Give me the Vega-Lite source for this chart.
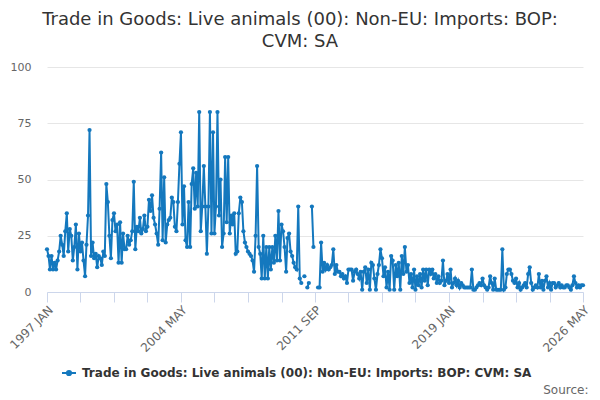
{
 "$schema": "https://vega.github.io/schema/vega-lite/v6.json",
 "width": 536, "height": 225,
 "autosize": "none",
 "padding": {"left": 47, "top": 67, "right": 17, "bottom": 108},
 "background": "white",
 "config": {"view": {"stroke": null}, "font": "DejaVu Sans"},
 "title": {"text": ["Trade in Goods: Live animals (00): Non-EU: Imports: BOP:", "CVM: SA"], "fontSize": 18, "fontWeight": "normal", "color": "#333333", "anchor": "middle", "dx": -15, "offset": 10, "lineHeight": 22, "font": "DejaVu Sans"},
 "data": {"values": [
{"d":"1997-01","v":19},{"d":"1997-02","v":16},{"d":"1997-03","v":10},{"d":"1997-04","v":16},{"d":"1997-05","v":10},{"d":"1997-06","v":13},{"d":"1997-07","v":10},{"d":"1997-08","v":14},{"d":"1997-09","v":18},{"d":"1997-10","v":25},{"d":"1997-11","v":21},{"d":"1997-12","v":16},
{"d":"1998-01","v":27},{"d":"1998-02","v":35},{"d":"1998-03","v":18},{"d":"1998-04","v":28},{"d":"1998-05","v":25},{"d":"1998-06","v":14},{"d":"1998-07","v":20},{"d":"1998-08","v":30},{"d":"1998-09","v":10},{"d":"1998-10","v":26},{"d":"1998-11","v":18},{"d":"1998-12","v":22},
{"d":"1999-01","v":14},{"d":"1999-02","v":7},{"d":"1999-03","v":21},{"d":"1999-04","v":34},{"d":"1999-05","v":72},{"d":"1999-06","v":16},{"d":"1999-07","v":22},{"d":"1999-08","v":15},{"d":"1999-09","v":17},{"d":"1999-10","v":11},{"d":"1999-11","v":16},{"d":"1999-12","v":15},
{"d":"2000-01","v":12},{"d":"2000-02","v":18},{"d":"2000-03","v":16},{"d":"2000-04","v":48},{"d":"2000-05","v":40},{"d":"2000-06","v":25},{"d":"2000-07","v":15},{"d":"2000-08","v":32},{"d":"2000-09","v":35},{"d":"2000-10","v":27},{"d":"2000-11","v":30},{"d":"2000-12","v":13},
{"d":"2001-01","v":31},{"d":"2001-02","v":13},{"d":"2001-03","v":26},{"d":"2001-04","v":19},{"d":"2001-05","v":19},{"d":"2001-06","v":25},{"d":"2001-07","v":21},{"d":"2001-08","v":23},{"d":"2001-09","v":27},{"d":"2001-10","v":49},{"d":"2001-11","v":19},{"d":"2001-12","v":29},
{"d":"2002-01","v":27},{"d":"2002-02","v":33},{"d":"2002-03","v":26},{"d":"2002-04","v":28},{"d":"2002-05","v":34},{"d":"2002-06","v":27},{"d":"2002-07","v":29},{"d":"2002-08","v":41},{"d":"2002-09","v":36},{"d":"2002-10","v":43},{"d":"2002-11","v":33},{"d":"2002-12","v":30},
{"d":"2003-01","v":26},{"d":"2003-02","v":21},{"d":"2003-03","v":37},{"d":"2003-04","v":62},{"d":"2003-05","v":23},{"d":"2003-06","v":51},{"d":"2003-07","v":22},{"d":"2003-08","v":30},{"d":"2003-09","v":32},{"d":"2003-10","v":33},{"d":"2003-11","v":42},{"d":"2003-12","v":40},
{"d":"2004-01","v":29},{"d":"2004-02","v":27},{"d":"2004-03","v":40},{"d":"2004-04","v":57},{"d":"2004-05","v":71},{"d":"2004-06","v":30},{"d":"2004-07","v":47},{"d":"2004-08","v":23},{"d":"2004-09","v":20},{"d":"2004-10","v":40},{"d":"2004-11","v":20},{"d":"2004-12","v":48},
{"d":"2005-01","v":55},{"d":"2005-02","v":37},{"d":"2005-03","v":53},{"d":"2005-04","v":38},{"d":"2005-05","v":80},{"d":"2005-06","v":27},{"d":"2005-07","v":38},{"d":"2005-08","v":56},{"d":"2005-09","v":38},{"d":"2005-10","v":17},{"d":"2005-11","v":38},{"d":"2005-12","v":80},
{"d":"2006-01","v":26},{"d":"2006-02","v":71},{"d":"2006-03","v":26},{"d":"2006-04","v":38},{"d":"2006-05","v":80},{"d":"2006-06","v":34},{"d":"2006-07","v":50},{"d":"2006-08","v":20},{"d":"2006-09","v":26},{"d":"2006-10","v":60},{"d":"2006-11","v":31},{"d":"2006-12","v":60},
{"d":"2007-01","v":26},{"d":"2007-02","v":34},{"d":"2007-03","v":30},{"d":"2007-04","v":35},{"d":"2007-05","v":17},{"d":"2007-06","v":18},{"d":"2007-07","v":35},{"d":"2007-08","v":42},{"d":"2007-09","v":40},{"d":"2007-10","v":27},{"d":"2007-11","v":22},{"d":"2007-12","v":20},
{"d":"2008-01","v":18},{"d":"2008-02","v":17},{"d":"2008-03","v":16},{"d":"2008-04","v":14},{"d":"2008-05","v":9},{"d":"2008-06","v":25},{"d":"2008-07","v":56},{"d":"2008-08","v":20},{"d":"2008-09","v":17},{"d":"2008-10","v":6},{"d":"2008-11","v":25},{"d":"2008-12","v":6},
{"d":"2009-01","v":20},{"d":"2009-02","v":6},{"d":"2009-03","v":20},{"d":"2009-04","v":10},{"d":"2009-05","v":20},{"d":"2009-06","v":13},{"d":"2009-07","v":25},{"d":"2009-08","v":14},{"d":"2009-09","v":36},{"d":"2009-10","v":14},{"d":"2009-11","v":30},{"d":"2009-12","v":27},
{"d":"2010-01","v":20},{"d":"2010-02","v":9},{"d":"2010-03","v":24},{"d":"2010-04","v":26},{"d":"2010-05","v":18},{"d":"2010-06","v":16},{"d":"2010-07","v":13},{"d":"2010-08","v":11},{"d":"2010-09","v":10},{"d":"2010-10","v":38},{"d":"2010-11","v":6},{"d":"2010-12","v":4},
{"d":"2011-01","v":null},{"d":"2011-02","v":7},{"d":"2011-03","v":null},{"d":"2011-04","v":2},{"d":"2011-05","v":4},{"d":"2011-06","v":null},{"d":"2011-07","v":38},{"d":"2011-08","v":20},{"d":"2011-09","v":null},{"d":"2011-10","v":null},{"d":"2011-11","v":2},{"d":"2011-12","v":2},
{"d":"2012-01","v":22},{"d":"2012-02","v":9},{"d":"2012-03","v":13},{"d":"2012-04","v":10},{"d":"2012-05","v":12},{"d":"2012-06","v":10},{"d":"2012-07","v":11},{"d":"2012-08","v":12},{"d":"2012-09","v":19},{"d":"2012-10","v":8},{"d":"2012-11","v":12},{"d":"2012-12","v":9},
{"d":"2013-01","v":9},{"d":"2013-02","v":7},{"d":"2013-03","v":8},{"d":"2013-04","v":6},{"d":"2013-05","v":7},{"d":"2013-06","v":4},{"d":"2013-07","v":10},{"d":"2013-08","v":10},{"d":"2013-09","v":10},{"d":"2013-10","v":5},{"d":"2013-11","v":9},{"d":"2013-12","v":10},
{"d":"2014-01","v":8},{"d":"2014-02","v":6},{"d":"2014-03","v":9},{"d":"2014-04","v":1},{"d":"2014-05","v":9},{"d":"2014-06","v":11},{"d":"2014-07","v":4},{"d":"2014-08","v":10},{"d":"2014-09","v":1},{"d":"2014-10","v":13},{"d":"2014-11","v":12},{"d":"2014-12","v":6},
{"d":"2015-01","v":1},{"d":"2015-02","v":8},{"d":"2015-03","v":12},{"d":"2015-04","v":19},{"d":"2015-05","v":15},{"d":"2015-06","v":7},{"d":"2015-07","v":11},{"d":"2015-08","v":2},{"d":"2015-09","v":9},{"d":"2015-10","v":1},{"d":"2015-11","v":16},{"d":"2015-12","v":14},
{"d":"2016-01","v":1},{"d":"2016-02","v":12},{"d":"2016-03","v":7},{"d":"2016-04","v":13},{"d":"2016-05","v":1},{"d":"2016-06","v":16},{"d":"2016-07","v":8},{"d":"2016-08","v":20},{"d":"2016-09","v":9},{"d":"2016-10","v":12},{"d":"2016-11","v":4},{"d":"2016-12","v":8},
{"d":"2017-01","v":2},{"d":"2017-02","v":10},{"d":"2017-03","v":1},{"d":"2017-04","v":7},{"d":"2017-05","v":3},{"d":"2017-06","v":8},{"d":"2017-07","v":2},{"d":"2017-08","v":10},{"d":"2017-09","v":5},{"d":"2017-10","v":10},{"d":"2017-11","v":3},{"d":"2017-12","v":10},
{"d":"2018-01","v":8},{"d":"2018-02","v":10},{"d":"2018-03","v":6},{"d":"2018-04","v":8},{"d":"2018-05","v":4},{"d":"2018-06","v":7},{"d":"2018-07","v":4},{"d":"2018-08","v":5},{"d":"2018-09","v":14},{"d":"2018-10","v":3},{"d":"2018-11","v":5},{"d":"2018-12","v":8},
{"d":"2019-01","v":4},{"d":"2019-02","v":10},{"d":"2019-03","v":2},{"d":"2019-04","v":4},{"d":"2019-05","v":6},{"d":"2019-06","v":3},{"d":"2019-07","v":5},{"d":"2019-08","v":2},{"d":"2019-09","v":4},{"d":"2019-10","v":3},{"d":"2019-11","v":2},{"d":"2019-12","v":2},
{"d":"2020-01","v":2},{"d":"2020-02","v":2},{"d":"2020-03","v":2},{"d":"2020-04","v":10},{"d":"2020-05","v":1},{"d":"2020-06","v":1},{"d":"2020-07","v":2},{"d":"2020-08","v":3},{"d":"2020-09","v":4},{"d":"2020-10","v":3},{"d":"2020-11","v":6},{"d":"2020-12","v":3},
{"d":"2021-01","v":2},{"d":"2021-02","v":1},{"d":"2021-03","v":2},{"d":"2021-04","v":7},{"d":"2021-05","v":4},{"d":"2021-06","v":1},{"d":"2021-07","v":6},{"d":"2021-08","v":1},{"d":"2021-09","v":1},{"d":"2021-10","v":1},{"d":"2021-11","v":1},{"d":"2021-12","v":19},
{"d":"2022-01","v":1},{"d":"2022-02","v":2},{"d":"2022-03","v":8},{"d":"2022-04","v":10},{"d":"2022-05","v":10},{"d":"2022-06","v":8},{"d":"2022-07","v":5},{"d":"2022-08","v":4},{"d":"2022-09","v":6},{"d":"2022-10","v":2},{"d":"2022-11","v":4},{"d":"2022-12","v":1},
{"d":"2023-01","v":2},{"d":"2023-02","v":3},{"d":"2023-03","v":4},{"d":"2023-04","v":2},{"d":"2023-05","v":8},{"d":"2023-06","v":11},{"d":"2023-07","v":4},{"d":"2023-08","v":1},{"d":"2023-09","v":2},{"d":"2023-10","v":3},{"d":"2023-11","v":2},{"d":"2023-12","v":8},
{"d":"2024-01","v":2},{"d":"2024-02","v":5},{"d":"2024-03","v":1},{"d":"2024-04","v":5},{"d":"2024-05","v":7},{"d":"2024-06","v":2},{"d":"2024-07","v":4},{"d":"2024-08","v":1},{"d":"2024-09","v":4},{"d":"2024-10","v":4},{"d":"2024-11","v":2},{"d":"2024-12","v":3},
{"d":"2025-01","v":4},{"d":"2025-02","v":2},{"d":"2025-03","v":3},{"d":"2025-04","v":2},{"d":"2025-05","v":2},{"d":"2025-06","v":3},{"d":"2025-07","v":3},{"d":"2025-08","v":2},{"d":"2025-09","v":1},{"d":"2025-10","v":3},{"d":"2025-11","v":7},{"d":"2025-12","v":4},
{"d":"2026-01","v":2},{"d":"2026-02","v":3},{"d":"2026-03","v":2},{"d":"2026-04","v":3},{"d":"2026-05","v":3}
 ]},
 "mark": {"type": "line", "strokeWidth": 2, "point": {"filled": true, "size": 18}},
 "encoding": {
  "x": {"field": "d", "type": "temporal",
   "scale": {"type": "utc", "nice": false, "domain": [{"year":1997,"month":1,"utc":true},{"year":2026,"month":5,"utc":true}]},
   "axis": {
    "values": [{"year":1997,"month":1,"utc":true},{"year":1998,"month":11,"utc":true},{"year":2000,"month":9,"utc":true},{"year":2002,"month":7,"utc":true},{"year":2004,"month":5,"utc":true},{"year":2006,"month":3,"utc":true},{"year":2008,"month":1,"utc":true},{"year":2009,"month":11,"utc":true},{"year":2011,"month":9,"utc":true},{"year":2013,"month":7,"utc":true},{"year":2015,"month":5,"utc":true},{"year":2017,"month":3,"utc":true},{"year":2019,"month":1,"utc":true},{"year":2020,"month":11,"utc":true},{"year":2022,"month":9,"utc":true},{"year":2024,"month":7,"utc":true},{"year":2026,"month":5,"utc":true}],
    "labelExpr": "((utcyear(datum.value)-1997)*12+utcmonth(datum.value)) % 88 == 0 ? upper(utcFormat(datum.value, '%Y %b')) : ''",
    "labelAngle": -45, "labelAlign": "right", "labelBaseline": "top", "labelFontSize": 12, "labelColor": "#666666", "labelOverlap": false, "labelPadding": 2, "labelFlush": false,
    "tickColor": "#ccd6eb", "tickSize": 10, "domainColor": "#ccd6eb", "grid": false,
    "title": "Source:", "titleX": 541, "titleY": 101, "titleAlign": "right", "titleBaseline": "alphabetic", "titleFontSize": 12, "titleFontWeight": "normal", "titleColor": "#666666"
   }
  },
  "y": {"field": "v", "type": "quantitative", "scale": {"domain": [0, 100], "nice": false},
   "axis": {"values": [0, 25, 50, 75, 100], "grid": true, "gridColor": "#e6e6e6", "domain": false, "ticks": false, "labelPadding": 16, "labelFontSize": 11, "labelColor": "#666666", "title": null}
  },
  "color": {"datum": "Trade in Goods: Live animals (00): Non-EU: Imports: BOP: CVM: SA", "type": "nominal", "scale": {"range": ["#1478be"]},
   "legend": {"orient": "none", "legendX": 14, "legendY": 298, "title": null, "symbolType": "M-1,0L1,0M-0.3,0A0.3,0.3 0 1 1 0.3,0A0.3,0.3 0 1 1 -0.3,0", "symbolSize": 196, "symbolStrokeWidth": 2, "symbolFillColor": "#1478be", "labelFontSize": 12, "labelFontWeight": "bold", "labelColor": "#333333", "labelLimit": 0, "labelOffset": 5}
  }
 }
}
